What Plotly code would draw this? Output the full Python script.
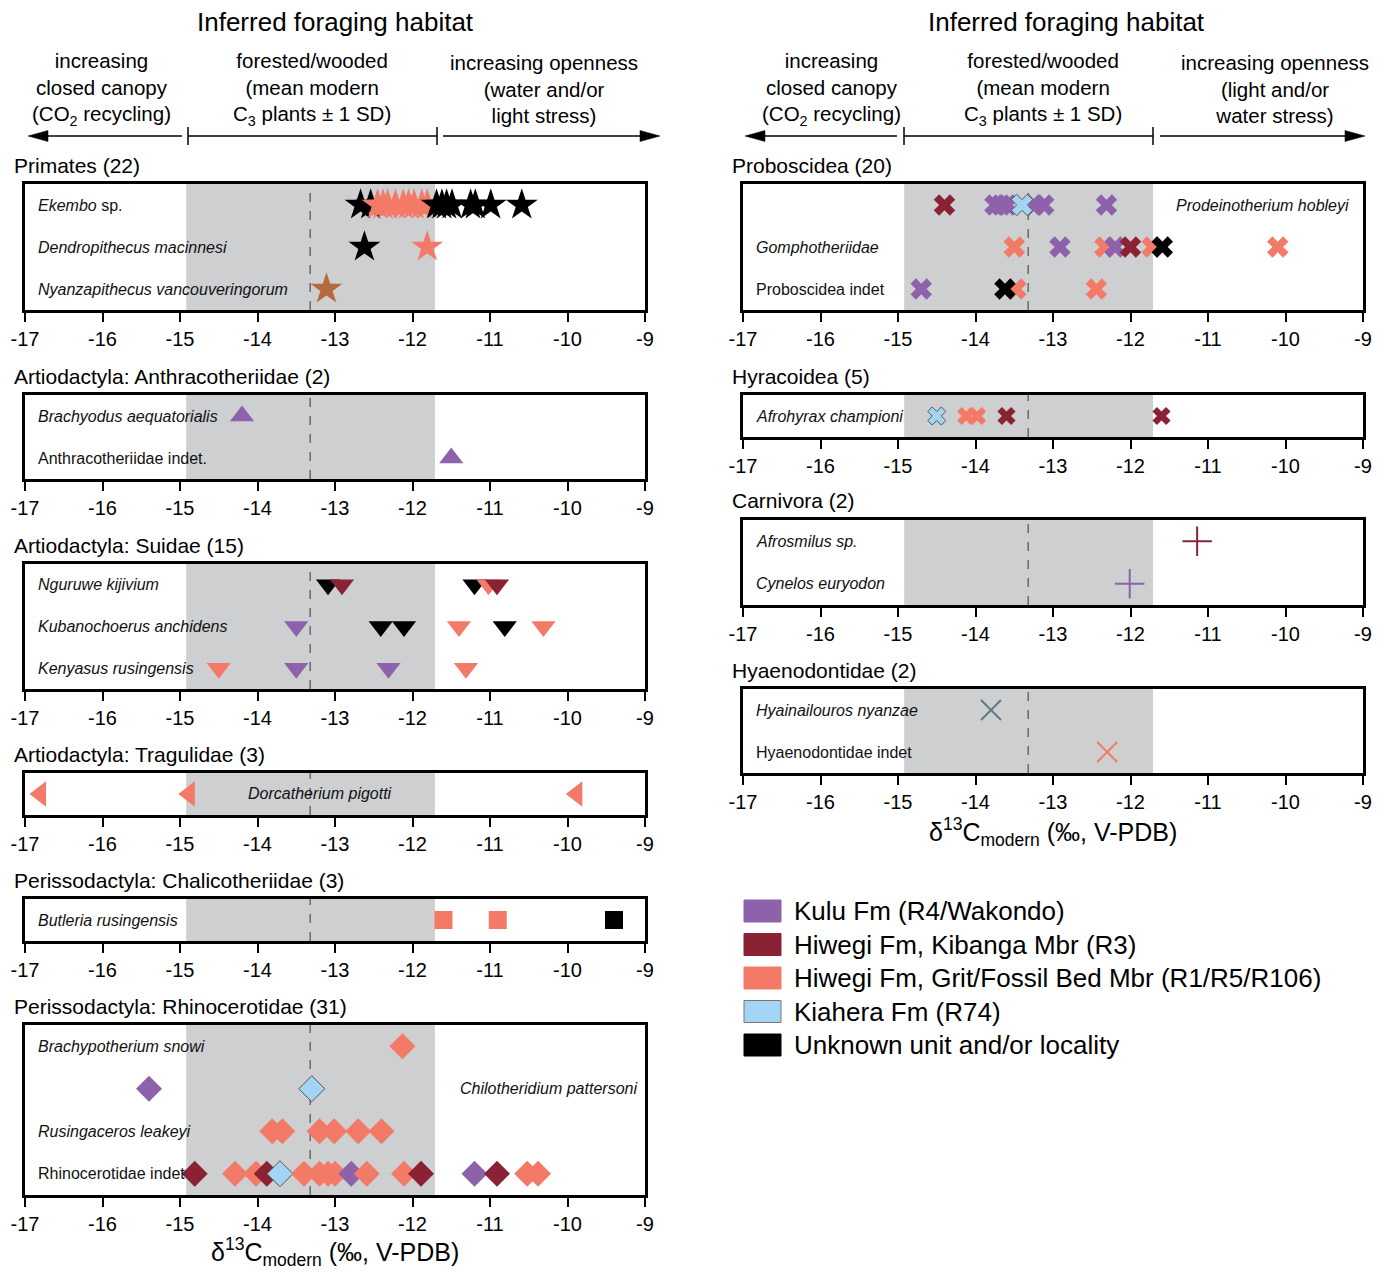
import plotly.graph_objects as go

# ---------------- data ----------------
unit_names = ["Kulu Fm (R4/Wakondo)", "Hiwegi Fm, Kibanga Mbr (R3)",
              "Hiwegi Fm, Grit/Fossil Bed Mbr (R1/R5/R106)", "Kiahera Fm (R74)",
              "Unknown unit and/or locality"]
unit_keys = ["K", "H3", "H1", "R74", "U"]
unit_colors = {"K": "#8E62AA", "H3": "#8B2234", "H1": "#F47A68", "R74": "#A3D4F4",
               "U": "#000000", "Ny": "#B5693C", "Hy": "#5E7A82"}

x_ticks = [-17, -16, -15, -14, -13, -12, -11, -10, -9]
c3_low, c3_mean, c3_high = -14.92, -13.32, -11.71

# Primates
ekembo_d13c = [-12.67, -12.54, -12.45, -12.38, -12.32, -12.22, -12.12, -12.05, -11.98, -11.88,
               -11.81, -11.69, -11.62, -11.56, -11.49, -11.25, -11.19, -10.99, -10.59]
ekembo_unit = ["U", "U", "H1", "H1", "H1", "H1", "H1", "H1", "H1", "H1",
               "H1", "U", "U", "U", "U", "U", "U", "U", "U"]
dendro_d13c = [-12.62, -11.81]
dendro_unit = ["U", "H1"]
nyanza_d13c = [-13.11]
nyanza_unit = ["Ny"]

# Anthracotheriidae
brachyodus_d13c = [-14.2]
brachyodus_unit = ["K"]
anthraco_indet_d13c = [-11.5]
anthraco_indet_unit = ["K"]

# Suidae
nguruwe_d13c = [-13.09, -12.91, -11.2, -11.02, -10.91]
nguruwe_unit = ["U", "H3", "U", "H1", "H3"]
kubano_d13c = [-13.5, -12.41, -12.11, -11.4, -10.81, -10.31]
kubano_unit = ["K", "U", "U", "H1", "U", "H1"]
kenyasus_d13c = [-14.5, -13.5, -12.31, -11.31]
kenyasus_unit = ["H1", "K", "K", "H1"]

# Tragulidae
dorcatherium_d13c = [-16.8, -14.88, -9.88]
dorcatherium_unit = ["H1", "H1", "H1"]

# Chalicotheriidae
butleria_d13c = [-11.6, -10.9, -9.4]
butleria_unit = ["H1", "H1", "U"]

# Rhinocerotidae
brachypotherium_d13c = [-12.13]
brachypotherium_unit = ["H1"]
chilotheridium_d13c = [-15.4, -13.3]
chilotheridium_unit = ["K", "R74"]
rusingaceros_d13c = [-13.81, -13.68, -13.2, -13.01, -12.7, -12.4]
rusingaceros_unit = ["H1"] * 6
rhino_indet_d13c = [-14.81, -14.29, -14.02, -13.88, -13.71, -13.4, -13.2, -13.09, -13.0,
                    -12.79, -12.59, -12.11, -11.89, -11.2, -10.91, -10.52, -10.38]
rhino_indet_unit = ["H3", "H1", "H1", "H3", "R74", "H1", "H1", "H1", "H1",
                    "K", "H1", "H1", "H3", "K", "H3", "H1", "H1"]

# Proboscidea
prodeino_d13c = [-14.4, -13.75, -13.67, -13.59, -13.24, -13.12, -12.31, -13.4]
prodeino_unit = ["H3", "K", "K", "K", "K", "K", "K", "R74"]
gompho_d13c = [-13.5, -12.91, -12.33, -12.2, -12.0, -11.72, -11.59, -10.1]
gompho_unit = ["H1", "K", "H1", "K", "H3", "H1", "U", "H1"]
probo_indet_d13c = [-14.7, -13.48, -13.62, -12.44]
probo_indet_unit = ["K", "H1", "U", "H1"]

# Hyracoidea
afrohyrax_d13c = [-14.5, -14.12, -13.98, -13.6, -11.6]
afrohyrax_unit = ["R74", "H1", "H1", "H3", "H3"]

# Carnivora
afrosmilus_d13c = [-11.14]
afrosmilus_unit = ["H3"]
cynelos_d13c = [-12.01]
cynelos_unit = ["K"]

# Hyaenodontidae
hyainailouros_d13c = [-13.8]
hyainailouros_unit = ["Hy"]
hyaeno_indet_d13c = [-12.3]
hyaeno_indet_unit = ["H1"]

# ---------------- layout ----------------
W, H = 1389, 1273
FONT = "Liberation Sans, Arial, sans-serif"


def fx(p):
    return p / W


def fy(p):
    return 1 - p / H


COLS = {0: (25, 645, 12), 1: (743, 1363, 730)}

panels = [
    dict(col=0, top=184, bottom=310, title="Primates (22)", symbol="star", size=24, rows=[
        ("<i>Ekembo</i> sp.", ekembo_d13c, ekembo_unit, "left"),
        ("<i>Dendropithecus macinnesi</i>", dendro_d13c, dendro_unit, "left"),
        ("<i>Nyanzapithecus vancouveringorum</i>", nyanza_d13c, nyanza_unit, "left")]),
    dict(col=0, top=395, bottom=479, title="Artiodactyla: Anthracotheriidae (2)", symbol="triangle-up", size=21, rows=[
        ("<i>Brachyodus aequatorialis</i>", brachyodus_d13c, brachyodus_unit, "left"),
        ("Anthracotheriidae indet.", anthraco_indet_d13c, anthraco_indet_unit, "left")]),
    dict(col=0, top=564, bottom=689, title="Artiodactyla: Suidae (15)", symbol="triangle-down", size=21, rows=[
        ("<i>Nguruwe kijivium</i>", nguruwe_d13c, nguruwe_unit, "left"),
        ("<i>Kubanochoerus anchidens</i>", kubano_d13c, kubano_unit, "left"),
        ("<i>Kenyasus rusingensis</i>", kenyasus_d13c, kenyasus_unit, "left")]),
    dict(col=0, top=773, bottom=815, title="Artiodactyla: Tragulidae (3)", symbol="triangle-left", size=22, rows=[
        ("<i>Dorcatherium pigotti</i>", dorcatherium_d13c, dorcatherium_unit, "center")]),
    dict(col=0, top=899, bottom=941, title="Perissodactyla: Chalicotheriidae (3)", symbol="square", size=18, rows=[
        ("<i>Butleria rusingensis</i>", butleria_d13c, butleria_unit, "left")]),
    dict(col=0, top=1025, bottom=1195, title="Perissodactyla: Rhinocerotidae (31)", symbol="diamond", size=20, rows=[
        ("<i>Brachypotherium snowi</i>", brachypotherium_d13c, brachypotherium_unit, "left"),
        ("<i>Chilotheridium pattersoni</i>", chilotheridium_d13c, chilotheridium_unit, "right"),
        ("<i>Rusingaceros leakeyi</i>", rusingaceros_d13c, rusingaceros_unit, "left"),
        ("Rhinocerotidae indet", rhino_indet_d13c, rhino_indet_unit, "left")]),
    dict(col=1, top=184, bottom=310, title="Proboscidea (20)", symbol="x", size=19, rows=[
        ("<i>Prodeinotherium hobleyi</i>", prodeino_d13c, prodeino_unit, "right"),
        ("<i>Gomphotheriidae</i>", gompho_d13c, gompho_unit, "left"),
        ("Proboscidea indet", probo_indet_d13c, probo_indet_unit, "left")]),
    dict(col=1, top=395, bottom=437, title="Hyracoidea (5)", symbol="x", size=16, rows=[
        ("<i>Afrohyrax championi</i>", afrohyrax_d13c, afrohyrax_unit, "left")]),
    dict(col=1, top=520, bottom=605, title="Carnivora (2)", symbol="cross-thin", size=21, rows=[
        ("<i>Afrosmilus sp.</i>", afrosmilus_d13c, afrosmilus_unit, "left"),
        ("<i>Cynelos euryodon</i>", cynelos_d13c, cynelos_unit, "left")]),
    dict(col=1, top=689, bottom=773, title="Hyaenodontidae (2)", symbol="x-thin", size=20, rows=[
        ("<i>Hyainailouros nyanzae</i>", hyainailouros_d13c, hyainailouros_unit, "left"),
        ("Hyaenodontidae indet", hyaeno_indet_d13c, hyaeno_indet_unit, "left")]),
]

fig = go.Figure()
layout = dict(width=W, height=H, autosize=False, margin=dict(l=0, r=0, t=0, b=0, pad=0),
              paper_bgcolor="white", plot_bgcolor="white", showlegend=False,
              font=dict(family=FONT, color="black"))
shapes = []
annotations = []

for i, p in enumerate(panels):
    n = i + 1
    xa = "xaxis" if n == 1 else f"xaxis{n}"
    ya = "yaxis" if n == 1 else f"yaxis{n}"
    xr = "x" if n == 1 else f"x{n}"
    yr = "y" if n == 1 else f"y{n}"
    x0p, x1p, titlex = COLS[p["col"]]
    nrows = len(p["rows"])
    layout[xa] = dict(domain=[fx(x0p), fx(x1p)], anchor=yr, range=[-17, -9],
                      tickvals=x_ticks, ticktext=[str(t) for t in x_ticks],
                      ticks="outside", ticklen=9, tickwidth=1.5, tickcolor="black",
                      showline=True, mirror=True, linewidth=2.5, linecolor="black",
                      showgrid=False, zeroline=False, automargin=False,
                      tickfont=dict(size=20, family=FONT, color="black"),
                      fixedrange=True)
    layout[ya] = dict(domain=[fy(p["bottom"]), fy(p["top"])], anchor=xr,
                      range=[nrows - 0.5, -0.5], showticklabels=False, ticks="",
                      showline=True, mirror=True, linewidth=2.5, linecolor="black",
                      showgrid=False, zeroline=False, automargin=False, fixedrange=True)
    shapes.append(dict(type="rect", xref=xr, yref=f"{yr} domain", x0=c3_low, x1=c3_high,
                       y0=0, y1=1, fillcolor="#CDCFD1", line=dict(width=0), layer="below"))
    shapes.append(dict(type="line", xref=xr, yref=f"{yr} domain", x0=c3_mean, x1=c3_mean,
                       y0=0, y1=1, line=dict(color="#6A6A6A", width=1.5, dash="dash"),
                       layer="below"))
    annotations.append(dict(text=p["title"], xref="paper", yref="paper", x=fx(titlex),
                            y=fy(p["top"] - 19), xanchor="left", yanchor="middle",
                            showarrow=False, font=dict(size=21)))
    for r, (label, vals, units, pos) in enumerate(p["rows"]):
        cols = [unit_colors[u] for u in units]
        thin = p["symbol"].endswith("-thin")
        if thin:
            marker = dict(symbol=p["symbol"], size=p["size"], color=cols,
                          line=dict(color=cols, width=2))
        else:
            marker = dict(symbol=p["symbol"], size=p["size"], color=cols,
                          line=dict(color=["#555555" if u == "R74" else c for u, c in zip(units, cols)],
                                    width=[1 if u == "R74" else 0 for u in units]))
        fig.add_trace(go.Scatter(x=vals, y=[r] * len(vals), mode="markers", marker=marker,
                                 xaxis=xr, yaxis=yr, hoverinfo="x"))
        if pos == "left":
            ax_, anc = 11 / 620, "left"
        elif pos == "right":
            ax_, anc = (1 - 6 / 620) if p["col"] == 0 else (1 - 12 / 620), "right"
        else:
            ax_, anc = 295 / 620, "center"
        annotations.append(dict(text=label, xref=f"{xr} domain", yref=yr, x=ax_, y=r,
                                xanchor=anc, yanchor="middle", showarrow=False,
                                font=dict(size=16, color="#111111")))

# header
headers = [
    (335, [(101, "increasing<br>closed canopy<br>(CO<sub>2</sub> recycling)"),
           (312, "forested/wooded<br>(mean modern<br>C<sub>3</sub> plants ± 1 SD)"),
           (544, "increasing openness<br>(water and/or<br>light stress)")],
     (28, 182), (188, 437), (443, 660)),
    (1066, [(831, "increasing<br>closed canopy<br>(CO<sub>2</sub> recycling)"),
            (1043, "forested/wooded<br>(mean modern<br>C<sub>3</sub> plants ± 1 SD)"),
            (1275, "increasing openness<br>(light and/or<br>water stress)")],
     (745, 897), (904, 1153), (1160, 1365)),
]


def hline(xa, xb, yv, w=1.6):
    return dict(type="line", xref="paper", yref="paper", x0=fx(xa), x1=fx(xb),
                y0=fy(yv), y1=fy(yv), line=dict(color="black", width=w))


def head(tip, base, yv, hh=5.5):
    path = (f"M {fx(tip)} {fy(yv)} L {fx(base)} {fy(yv - hh)} "
            f"L {fx(base)} {fy(yv + hh)} Z")
    return dict(type="path", xref="paper", yref="paper", path=path,
                fillcolor="black", line=dict(color="black", width=0.5))


for tx, cols3, larr, brk, rarr in headers:
    annotations.append(dict(text="Inferred foraging habitat", xref="paper", yref="paper",
                            x=fx(tx), y=fy(22), xanchor="center", yanchor="middle",
                            showarrow=False, font=dict(size=26)))
    for cx, txt in cols3:
        annotations.append(dict(text=txt, xref="paper", yref="paper", x=fx(cx), y=fy(89),
                                xanchor="center", yanchor="middle", showarrow=False,
                                font=dict(size=20.5)))
    shapes.append(hline(larr[0] + 10, larr[1], 136))
    shapes.append(head(larr[0], larr[0] + 20, 136))
    shapes.append(hline(rarr[0], rarr[1] - 10, 136))
    shapes.append(head(rarr[1], rarr[1] - 20, 136))
    shapes.append(hline(brk[0], brk[1], 136, 1.5))
    for bx in brk:
        shapes.append(dict(type="line", xref="paper", yref="paper", x0=fx(bx), x1=fx(bx),
                           y0=fy(127), y1=fy(145), line=dict(color="black", width=1.5)))

# axis titles
xtitle = "δ<sup>13</sup>C<sub>modern</sub> (‰, V-PDB)"
annotations.append(dict(text=xtitle, xref="paper", yref="paper", x=fx(335), y=fy(1252),
                        xanchor="center", yanchor="middle", showarrow=False, font=dict(size=25)))
annotations.append(dict(text=xtitle, xref="paper", yref="paper", x=fx(1053), y=fy(832),
                        xanchor="center", yanchor="middle", showarrow=False, font=dict(size=25)))

# legend (manual)
for k, (key, name) in enumerate(zip(unit_keys, unit_names)):
    cy = 911 + k * 33.5
    shapes.append(dict(type="rect", xref="paper", yref="paper", x0=fx(744), x1=fx(781),
                       y0=fy(cy + 11), y1=fy(cy - 11), fillcolor=unit_colors[key],
                       line=dict(color="#777777" if key == "R74" else unit_colors[key], width=1)))
    annotations.append(dict(text=name, xref="paper", yref="paper", x=fx(792), y=fy(cy),
                            xanchor="left", yanchor="middle", showarrow=False,
                            font=dict(size=26)))

layout["shapes"] = shapes
layout["annotations"] = annotations
fig.update_layout(**layout)
fig.write_html("out.html", config={"displayModeBar": False},
               post_script="document.body.style.margin='0px';document.body.style.padding='0px';")
